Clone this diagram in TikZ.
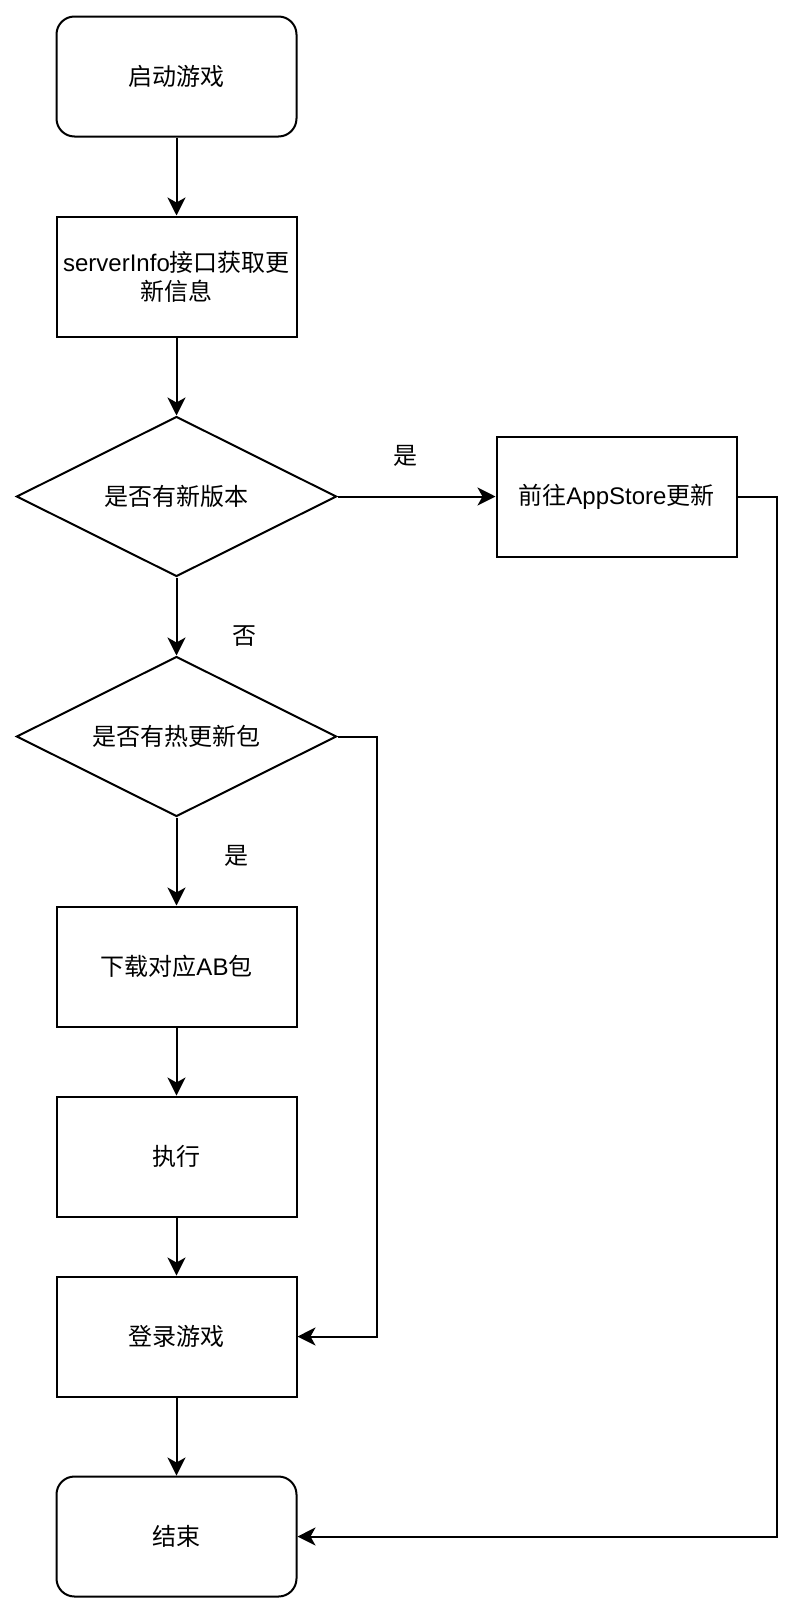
\documentclass[tikz,border=0pt]{standalone}
\usepackage{fontspec}
\setmainfont{Liberation Sans}
\newfontfamily\cjk{Noto Sans CJK SC}
\usetikzlibrary{shapes.geometric,arrows.meta}
\begin{document}
\begin{tikzpicture}[x=1pt,y=-1pt,
  every node/.style={font=\fontsize{24}{31}\selectfont},
  base/.style={draw,line width=2pt,minimum width=240pt,minimum height=120pt,inner sep=0pt,align=center},
  proc/.style={base},
  term/.style={base,rounded corners=18pt},
  dec/.style={draw,line width=2pt,diamond,minimum width=320pt,minimum height=160pt,inner sep=0pt,aspect=2},
  lbl/.style={inner sep=0pt},
  arr/.style={line width=2pt,-{Stealth[length=18pt,width=18pt,inset=5pt]}}]
\useasboundingbox (0,0) rectangle (810,1614);
\node[term] (start) at (176.5,76.5) {\cjk 启动游戏};
\node[proc] (srv) at (176.5,276.5) {serverInfo{\cjk 接口获取更}\\[-2pt]{\cjk 新信息}};
\node[dec] (d1) at (176.5,496.5) {\cjk 是否有新版本};
\node[proc] (app) at (616.5,496.5) {{\cjk 前往}AppStore{\cjk 更新}};
\node[dec] (d2) at (176.5,736.5) {\cjk 是否有热更新包};
\node[proc] (dl) at (176.5,966.5) {{\cjk 下载对应}AB{\cjk 包}};
\node[proc] (ex) at (176.5,1156.5) {\cjk 执行};
\node[proc] (login) at (176.5,1336.5) {\cjk 登录游戏};
\node[term] (end) at (176.5,1536.5) {\cjk 结束};
\node[lbl] (l1) at (405,456) {\cjk 是};
\node[lbl] (l2) at (244,636) {\cjk 否};
\node[lbl] (l3) at (236,856) {\cjk 是};
\coordinate (r1) at (376.5,736.5);
\coordinate (r1b) at (376.5,1336.5);
\coordinate (r2) at (776.5,496.5);
\coordinate (r2b) at (776.5,1536.5);
\draw[arr] (start) -- (srv);
\draw[arr] (srv) -- (d1);
\draw[arr] (d1) -- (app);
\draw[arr] (d1) -- (d2);
\draw[arr] (d2) -- (dl);
\draw[arr] (dl) -- (ex);
\draw[arr] (ex) -- (login);
\draw[arr] (login) -- (end);
\draw[arr] (d2.east) -- (r1) -- (r1b) -- (login.east);
\draw[arr] (app.east) -- (r2) -- (r2b) -- (end.east);
\end{tikzpicture}
\end{document}
